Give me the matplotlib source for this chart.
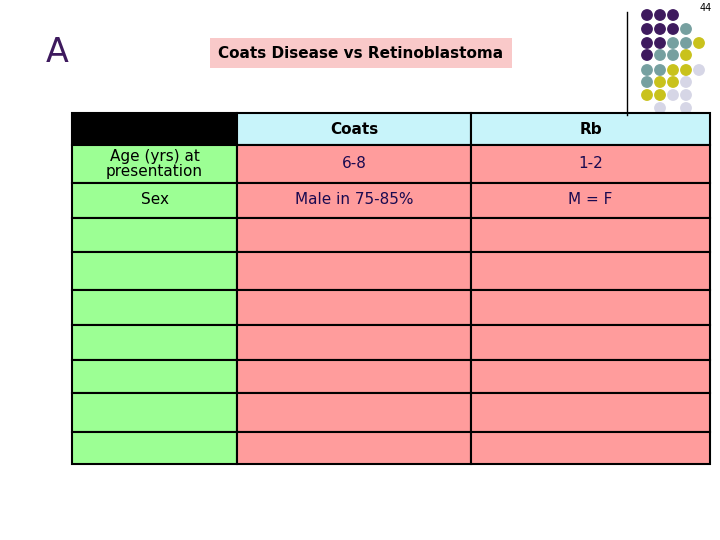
import matplotlib
matplotlib.use("Agg")
import matplotlib.pyplot as plt
from matplotlib.patches import Rectangle, Circle

header = ["", "Coats", "Rb"]
row_labels = ["Age (yrs) at\npresentation", "Sex", "", "", "", "", "", "", ""]
coats_vals = ["6-8", "Male in 75-85%", "", "", "", "", "", "", ""]
rb_vals = ["1-2", "M = F", "", "", "", "", "", "", ""]

col_edges = [72, 237, 471, 710]
row_edges = [113, 145, 183, 218, 252, 290, 325, 360, 393, 432, 464]

dot_pattern = ["PPP--", "PPPT-", "PPTTY", "PTTY-", "TTYYL", "TYYL-", "YYLL-", "-L-L-"]
dot_colors = {"P": "#3E1A5E", "T": "#76A0A0", "Y": "#C9C21C", "L": "#D6D6E6"}

fig = plt.figure(figsize=(7.2, 5.4), dpi=100)
ax = fig.add_axes([0, 0, 1, 1])
ax.set_xlim(0, 720); ax.set_ylim(540, 0); ax.axis("off")

ax.text(57, 52, "A", fontsize=24, color="#3E1A5E", ha="center", va="center")
ax.add_patch(Rectangle((210, 38), 302, 30, facecolor="#F9C9C9", edgecolor="none"))
ax.text(361, 53, "Coats Disease vs Retinoblastoma", fontsize=11, fontweight="bold", ha="center", va="center")
ax.text(706, 8, "44", fontsize=7, ha="center", va="center")
ax.plot([627, 627], [12, 115], color="black", lw=1)

ys = [15, 29, 43, 55, 70, 82, 95, 108]
for r, row in enumerate(dot_pattern):
    for c, ch in enumerate(row):
        if ch != "-":
            ax.add_patch(Circle((647 + 13 * c, ys[r]), 5.2, color=dot_colors[ch]))

for r in range(len(row_edges) - 1):
    y0, y1 = row_edges[r], row_edges[r + 1]
    for c in range(3):
        x0, x1 = col_edges[c], col_edges[c + 1]
        if r == 0:
            fc = "black" if c == 0 else "#C8F4FA"
            txt = header[c]; fw = "bold"
        else:
            fc = "#9CFF94" if c == 0 else "#FF9C9C"
            txt = [row_labels, coats_vals, rb_vals][c][r - 1]
            fw = "normal"
        ax.add_patch(Rectangle((x0, y0), x1 - x0, y1 - y0, facecolor=fc, edgecolor="black", lw=1.5))
        if txt:
            color = "black" if (c == 0 or r == 0) else "#1A0A50"
            ax.text((x0 + x1) / 2, (y0 + y1) / 2 if r != 2 else y0 + 17, txt, ha="center", va="center",
                    fontsize=11, fontweight=fw, color=color, linespacing=0.95)

fig.savefig("out.png", dpi=100)
